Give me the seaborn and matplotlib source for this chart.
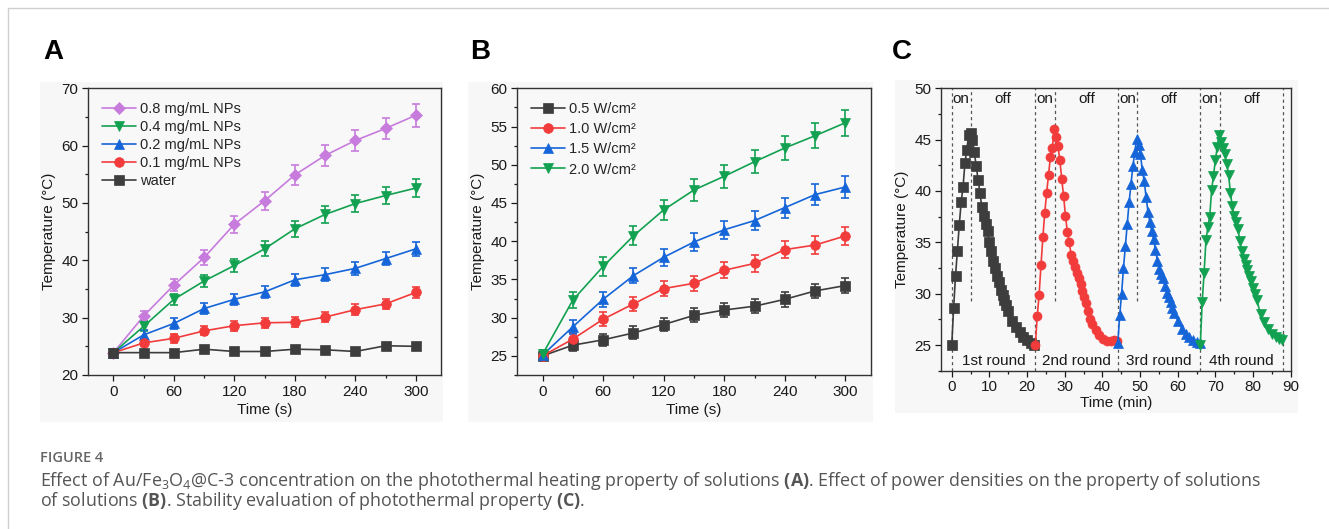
import matplotlib
matplotlib.use("Agg")
import numpy as np
import pandas as pd
import matplotlib.pyplot as plt
import seaborn as sns
from matplotlib.lines import Line2D
from matplotlib.patches import Rectangle
from matplotlib.ticker import MultipleLocator

# ---------------- Panel A data ----------------
time_s = [0, 30, 60, 90, 120, 150, 180, 210, 240, 270, 300]
labels_a = ["0.8 mg/mL NPs", "0.4 mg/mL NPs", "0.2 mg/mL NPs", "0.1 mg/mL NPs", "water"]
temp_a_08 = [23.9, 30.3, 35.7, 40.5, 46.3, 50.4, 54.9, 58.3, 60.9, 63.0, 65.3]
temp_a_04 = [23.9, 28.5, 33.2, 36.4, 39.1, 42.0, 45.5, 48.0, 49.9, 51.3, 52.6]
temp_a_02 = [23.9, 27.0, 29.0, 31.6, 33.2, 34.5, 36.6, 37.5, 38.6, 40.3, 42.0]
temp_a_01 = [23.9, 25.6, 26.4, 27.7, 28.6, 29.1, 29.2, 30.1, 31.4, 32.4, 34.4]
temp_a_w = [23.9, 23.9, 23.9, 24.5, 24.1, 24.1, 24.5, 24.4, 24.1, 25.1, 25.0]
err_a_08 = [0.6, 0.8, 1.1, 1.3, 1.45, 1.6, 1.7, 1.8, 1.9, 1.9, 2.0]
err_a_04 = [0.6, 0.9, 1.0, 1.1, 1.2, 1.3, 1.4, 1.45, 1.5, 1.55, 1.6]
err_a_02 = [0.6, 0.8, 0.9, 0.9, 1.0, 1.0, 1.05, 1.1, 1.1, 1.15, 1.2]
err_a_01 = [0.5, 0.6, 0.8, 0.8, 0.9, 0.9, 0.9, 0.9, 0.9, 0.9, 1.0]
err_a_w = [0.5, 0.5, 0.5, 0.5, 0.5, 0.5, 0.5, 0.5, 0.5, 0.5, 0.5]

# ---------------- Panel B data ----------------
labels_b = ["0.5 W/cm²", "1.0 W/cm²", "1.5 W/cm²", "2.0 W/cm²"]
temp_b_05 = [25.0, 26.4, 27.1, 28.0, 29.1, 30.3, 31.0, 31.5, 32.4, 33.5, 34.2]
temp_b_10 = [25.0, 27.2, 29.8, 31.8, 33.8, 34.5, 36.2, 37.1, 38.9, 39.5, 40.7]
temp_b_15 = [25.1, 28.8, 32.4, 35.5, 37.9, 39.9, 41.5, 42.7, 44.4, 46.1, 47.1]
temp_b_20 = [25.2, 32.3, 36.7, 40.7, 44.1, 46.7, 48.5, 50.4, 52.2, 53.8, 55.5]
err_b_05 = [0.5, 0.8, 0.8, 0.85, 0.85, 0.9, 0.9, 0.95, 0.95, 0.95, 1.0]
err_b_10 = [0.5, 0.8, 0.9, 0.9, 1.0, 1.0, 1.05, 1.1, 1.15, 1.15, 1.2]
err_b_15 = [0.5, 0.9, 1.0, 1.0, 1.1, 1.2, 1.2, 1.25, 1.3, 1.35, 1.4]
err_b_20 = [0.6, 1.0, 1.2, 1.25, 1.35, 1.45, 1.5, 1.5, 1.55, 1.6, 1.7]

# ---------------- Panel C data ----------------
round_lines = [0.0, 22.2, 44.1, 66.0, 88.0]
on_lines = [5.0, 27.4, 49.3, 71.3]
round_labels = ["1st round", "2nd round", "3rd round", "4th round"]
time_c1 = [0, 0.5, 1, 1.5, 2, 2.5, 3, 3.5, 4, 4.5, 5, 5.5, 6, 6.5, 7, 7.5, 8, 8.5, 9, 9.5,
           10, 10.5, 11, 11.5, 12, 12.5, 13, 13.5, 14, 14.5, 15, 16, 17, 18, 19, 20, 21, 21.8]
temp_c1 = [25.0, 28.6, 31.7, 34.2, 36.7, 38.9, 40.4, 42.7, 44.0, 45.5, 45.6,
           45.0, 43.8, 42.4, 41.1, 39.8, 38.4, 37.6, 36.8, 36.1, 35.0, 34.2, 33.2, 32.5,
           31.7, 31.1, 30.4, 29.9, 29.4, 28.9, 28.3, 27.3, 26.8, 26.3, 25.8, 25.5, 25.2, 25.0]
time_c2 = [22.2, 22.7, 23.2, 23.7, 24.2, 24.7, 25.2, 25.7, 26.2, 26.7, 27.2, 27.7, 28.2, 28.7,
           29.2, 29.7, 30.2, 30.7, 31.2, 31.7, 32.2, 32.7, 33.2, 33.7, 34.2, 34.7, 35.2, 35.7,
           36.2, 36.7, 37.2, 38.2, 39.2, 40.2, 41.2, 42.2, 43.2, 44.0]
temp_c2 = [25.0, 27.8, 29.9, 32.8, 35.5, 37.9, 39.8, 41.6, 43.3, 44.2, 46.0,
           45.3, 44.4, 43.0, 41.2, 39.5, 37.6, 36.0, 35.0, 33.8, 33.2, 32.6, 32.0, 31.5,
           30.9, 30.3, 29.7, 29.1, 28.3, 27.5, 27.0, 26.5, 26.0, 25.6, 25.4, 25.4, 25.5, 25.4]
time_c3 = [44.1, 44.6, 45.1, 45.6, 46.1, 46.6, 47.1, 47.6, 48.1, 48.6, 49.1, 49.6, 50.1, 50.6,
           51.1, 51.6, 52.1, 52.6, 53.1, 53.6, 54.1, 54.6, 55.1, 55.6, 56.1, 56.6, 57.1, 57.6,
           58.1, 58.6, 59.1, 60.1, 61.1, 62.1, 63.1, 64.1, 65.1, 65.9]
temp_c3 = [25.2, 27.9, 30.0, 32.5, 34.6, 36.8, 38.9, 40.7, 42.4, 43.8, 45.1,
           44.5, 43.6, 42.0, 41.0, 39.4, 38.0, 37.0, 36.1, 35.3, 34.3, 33.2, 32.4, 31.9,
           31.5, 30.7, 30.1, 29.7, 29.2, 28.6, 28.1, 27.3, 26.6, 26.1, 25.8, 25.5, 25.3, 25.2]
time_c4 = [66.0, 66.5, 67.0, 67.5, 68.0, 68.5, 69.0, 69.5, 70.0, 70.5, 71.0, 71.5, 72.0, 72.5,
           73.0, 73.5, 74.0, 74.5, 75.0, 75.5, 76.0, 76.5, 77.0, 77.5, 78.0, 78.5, 79.0, 79.5,
           80.0, 80.5, 81.0, 82.0, 83.0, 84.0, 85.0, 86.0, 87.0, 87.8]
temp_c4 = [25.0, 29.2, 32.0, 35.2, 36.5, 37.5, 40.1, 41.5, 43.0, 44.3, 45.5,
           44.8, 44.2, 43.6, 42.6, 41.6, 39.8, 38.5, 37.6, 37.0, 36.3, 35.1, 34.2, 33.4,
           32.8, 32.3, 31.7, 31.2, 30.6, 30.0, 29.4, 28.0, 27.2, 26.6, 26.1, 25.8, 25.6, 25.5]

caption_head = "FIGURE 4"
caption_l1 = ("Effect of Au/Fe$_3$O$_4$@C-3 concentration on the photothermal heating property of "
              "solutions $\\mathbf{(A)}$. Effect of power densities on the property of solutions")
caption_l2 = "of solutions $\\mathbf{(B)}$. Stability evaluation of photothermal property $\\mathbf{(C)}$."

# ---------------- style ----------------
C_GRAY, C_RED, C_BLUE, C_GREEN, C_PURPLE = "#3d3d3d", "#f23b3b", "#1565d8", "#12a150", "#c77cdd"
sns.set_style("ticks")
plt.rcParams["font.family"] = ["Liberation Sans", "DejaVu Sans"]
plt.rcParams["mathtext.fontset"] = "custom"
plt.rcParams["mathtext.rm"] = "Open Sans"
plt.rcParams["mathtext.bf"] = "Open Sans:bold"
plt.rcParams["mathtext.default"] = "regular"

W, H = 1329, 529
fig = plt.figure(figsize=(W / 100, H / 100), dpi=100)
fig.patch.set_facecolor("white")

# frame lines
fig.add_artist(Line2D([8 / W, 1], [1 - 8 / H, 1 - 8 / H], transform=fig.transFigure, color="#cfcfcf", lw=1))
fig.add_artist(Line2D([8 / W, 8 / W], [0, 1 - 8 / H], transform=fig.transFigure, color="#cfcfcf", lw=1))

# light panel backgrounds
for (x0, y0, x1, y1) in [(40, 82, 443, 422), (468, 82, 873, 422), (895, 80, 1298, 413)]:
    fig.add_artist(Rectangle((x0 / W, 1 - y1 / H), (x1 - x0) / W, (y1 - y0) / H,
                             transform=fig.transFigure, facecolor="#f7f7f7", edgecolor="none", zorder=-5))


def make_ax(l, t, r, b):
    ax = fig.add_axes([l / W, 1 - b / H, (r - l) / W, (b - t) / H])
    ax.set_facecolor("#f8f8f8")
    return ax


def style_ax(ax, xlim, ylim, xmaj, xmin, ymaj, ymin, xlabel):
    ax.set_xlim(*xlim)
    ax.set_ylim(*ylim)
    ax.xaxis.set_major_locator(MultipleLocator(xmaj))
    ax.xaxis.set_minor_locator(MultipleLocator(xmin))
    ax.yaxis.set_major_locator(MultipleLocator(ymaj))
    ax.yaxis.set_minor_locator(MultipleLocator(ymin))
    ax.tick_params(which="major", direction="out", length=4, width=0.9, labelsize=11,
                   colors="#1a1a1a", top=False, right=False, pad=3)
    ax.tick_params(which="minor", direction="out", length=2.5, width=0.9, color="#1a1a1a",
                   top=False, right=False)
    for s in ax.spines.values():
        s.set_linewidth(1.0)
        s.set_color("#333333")
        s.set_visible(True)
    ax.set_xlabel(xlabel, fontsize=11, color="#1a1a1a", labelpad=3)
    ax.set_ylabel("Temperature (°C)", fontsize=11, color="#1a1a1a", labelpad=4)


def series(ax, x, y, err, color, marker, ms):
    if err is not None:
        ax.errorbar(x, y, yerr=err, fmt="none", ecolor=color, elinewidth=1.2, capsize=3,
                    capthick=1.2, zorder=2)
    sns.lineplot(x=x, y=y, ax=ax, color=color, marker=marker, markersize=ms,
                 markeredgecolor=color, markeredgewidth=0.5, linewidth=1.2,
                 errorbar=None, legend=False, zorder=3)
    return ax.lines[-1]


# ---------------- Panel A ----------------
axA = make_ax(88.3, 88.3, 441, 375)
hA = []
for y, e, c, m in [(temp_a_08, err_a_08, C_PURPLE, "D"), (temp_a_04, err_a_04, C_GREEN, "v"),
                   (temp_a_02, err_a_02, C_BLUE, "^"), (temp_a_01, err_a_01, C_RED, "o"),
                   (temp_a_w, err_a_w, C_GRAY, "s")]:
    hA.append(series(axA, time_s, y, e, c, m, 7 if m != "D" else 6))
style_ax(axA, (-25, 325), (20, 70), 60, 30, 10, 5, "Time (s)")
axA.legend(hA, labels_a, loc="upper left", frameon=False, fontsize=10.5, handlelength=2.3,
           handletextpad=0.3, labelspacing=0.28, borderaxespad=0.5, borderpad=0.45)

# ---------------- Panel B ----------------
axB = make_ax(517.3, 88.3, 870.7, 375)
hB = []
for y, e, c, m in [(temp_b_05, err_b_05, C_GRAY, "s"), (temp_b_10, err_b_10, C_RED, "o"),
                   (temp_b_15, err_b_15, C_BLUE, "^"), (temp_b_20, err_b_20, C_GREEN, "v")]:
    hB.append(series(axB, time_s, y, e, c, m, 7))
style_ax(axB, (-25, 325), (22.5, 60), 60, 30, 5, 2.5, "Time (s)")
axB.legend(hB, labels_b, loc="upper left", frameon=False, fontsize=10.5, handlelength=2.3,
           handletextpad=0.3, labelspacing=0.42, borderaxespad=0.5, borderpad=0.45)

# ---------------- Panel C ----------------
axC = make_ax(941, 88.3, 1290.7, 370.7)
for xv in round_lines:
    axC.axvline(xv, color="#555555", lw=0.9, ls=(0, (2.5, 2.5)), zorder=1)
for xv in on_lines:
    axC.plot([xv, xv], [29.3, 50], color="#555555", lw=0.9, ls=(0, (2.5, 2.5)), zorder=1)
for x, y, c, m in [(time_c1, temp_c1, C_GRAY, "s"), (time_c2, temp_c2, C_RED, "o"),
                   (time_c3, temp_c3, C_BLUE, "^"), (time_c4, temp_c4, C_GREEN, "v")]:
    series(axC, x, y, None, c, m, 6.5)
style_ax(axC, (-2.85, 90), (22.5, 50), 10, 5, 5, 2.5, "Time (min)")
axC.xaxis.labelpad = 1
for i in range(4):
    s, o, e = round_lines[i], on_lines[i], round_lines[i + 1]
    axC.text((s + o) / 2, 49.0, "on", ha="center", va="center", fontsize=11, color="#1a1a1a")
    axC.text((o + e) / 2, 49.0, "off", ha="center", va="center", fontsize=11, color="#1a1a1a")
    axC.text((s + e) / 2, 23.45, round_labels[i], ha="center", va="center", fontsize=11,
             color="#1a1a1a")

# panel letters
for x, lab in [(43, "A"), (470, "B"), (892, "C")]:
    fig.text(x / W, 1 - 52 / H, lab, fontsize=20, fontweight="bold", ha="left", va="center",
             color="black")

# caption
fig.text(40 / W, 1 - 458 / H, caption_head, fontsize=10.5, fontweight="semibold",
         family=["Open Sans", "DejaVu Sans"], color="#666666", ha="left", va="center")
fig.text(40 / W, 1 - 481 / H, caption_l1, fontsize=12.9, family=["Open Sans", "DejaVu Sans"],
         color="#555555", ha="left", va="center")
fig.text(40 / W, 1 - 501 / H, caption_l2, fontsize=12.9, family=["Open Sans", "DejaVu Sans"],
         color="#555555", ha="left", va="center")

fig.savefig("out.png", dpi=100, facecolor="white")
